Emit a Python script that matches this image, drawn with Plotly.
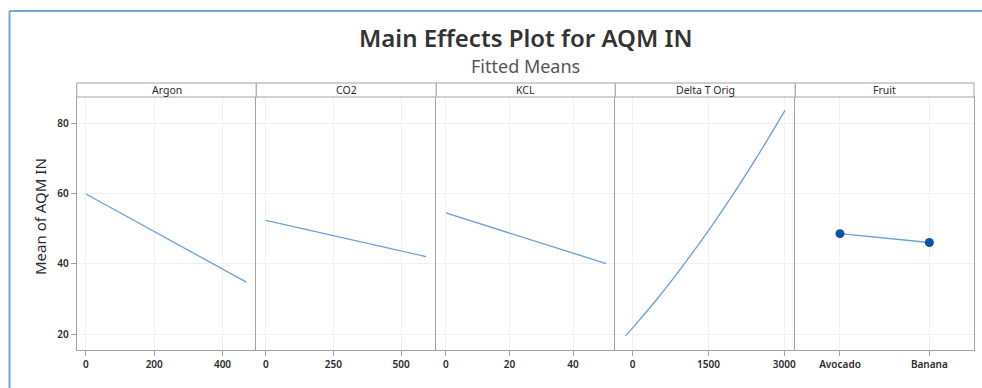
import plotly.graph_objects as go

# Factor panels and their fitted means
factors = ["Argon", "CO2", "KCL", "Delta T Orig", "Fruit"]

argon_x = [0, 470]
argon_y = [59.9, 34.8]

co2_x = [0, 592]
co2_y = [52.4, 42.1]

kcl_x = [0, 50.4]
kcl_y = [54.5, 40.1]

deltat_x = [-139, 0, 500, 1000, 1500, 2000, 2500, 3014]
deltat_y = [19.5, 21.8, 30.3, 39.6, 49.5, 60.1, 71.4, 83.7]

fruit_x = ["Avocado", "Banana"]
fruit_y = [48.6, 46.1]

x_ranges = [[-27, 499], [-35, 630], [-3, 53.3], [-343, 3218], [-0.5, 1.5]]
x_dticks = [200, 250, 20, 1500, None]
y_range = [15.5, 87.5]

W, H = 982, 388
FONT = "Noto Sans"
LINE_BLUE = "#6b9fd9"
MARKER_BLUE = "#0b53a7"
BORDER = "#a3a3a3"
GRID = "#f1f1f1"
TEXT = "#2b2b2b"

# panel edges in pixels -> paper fractions
edges_px = [76.7, 256.3, 436.3, 615.3, 795.3, 974.0]
edges = [e / W for e in edges_px]
plot_bottom = 1 - 350 / H
plot_top = 1 - 97 / H
strip_top = 1 - 83 / H

series = [
    (argon_x, argon_y),
    (co2_x, co2_y),
    (kcl_x, kcl_y),
    (deltat_x, deltat_y),
    (fruit_x, fruit_y),
]

fig = go.Figure()
layout = dict(
    width=W,
    height=H,
    margin=dict(l=0, r=0, t=0, b=0),
    paper_bgcolor="white",
    plot_bgcolor="white",
    showlegend=False,
    font=dict(family=FONT, color=TEXT),
)

shapes = []
annotations = []
tick_font = dict(family=FONT, size=10, color=TEXT, weight=600)

for i, (xs, ys) in enumerate(series):
    n = i + 1
    xa = "x" if n == 1 else f"x{n}"
    ya = "y" if n == 1 else f"y{n}"
    is_fruit = factors[i] == "Fruit"
    is_curve = factors[i] == "Delta T Orig"
    is_last = n == len(series)

    fig.add_trace(go.Scatter(
        x=xs, y=ys, xaxis=xa, yaxis=ya,
        mode="lines+markers" if is_fruit else "lines",
        line=dict(color=LINE_BLUE, width=1.3,
                  shape="spline" if is_curve else "linear"),
        marker=dict(color=MARKER_BLUE, size=9) if is_fruit else None,
        hoverinfo="skip",
    ))

    xkey = "xaxis" if n == 1 else f"xaxis{n}"
    ykey = "yaxis" if n == 1 else f"yaxis{n}"

    xaxis = dict(
        domain=[edges[i], edges[i + 1]],
        anchor=ya,
        range=x_ranges[i],
        showline=True, mirror=True, linecolor=BORDER, linewidth=1,
        showgrid=True, gridcolor=GRID, gridwidth=1,
        zeroline=False,
        ticks="outside", ticklen=5, tickcolor=BORDER,
        tickfont=tick_font,
        fixedrange=True,
    )
    if is_fruit:
        xaxis.update(type="category", categoryorder="array", categoryarray=fruit_x)
    else:
        xaxis.update(tickmode="linear", tick0=0, dtick=x_dticks[i])
    layout[xkey] = xaxis

    # only the left edge of each panel gets a line; the last panel closes the box
    yaxis = dict(
        domain=[plot_bottom, plot_top],
        anchor=xa,
        range=y_range,
        tickmode="linear", tick0=0, dtick=20,
        showline=True, mirror=is_last, linecolor=BORDER, linewidth=1,
        showgrid=True, gridcolor=GRID, gridwidth=1,
        zeroline=False,
        fixedrange=True,
    )
    if n == 1:
        yaxis.update(ticks="outside", ticklen=5, tickcolor=BORDER,
                     tickfont=tick_font)
    else:
        yaxis.update(showticklabels=False, ticks="")
    layout[ykey] = yaxis

    # factor name strip above each panel
    shapes.append(dict(
        type="rect", xref=f"{xa} domain", yref="paper",
        x0=0, x1=1, y0=plot_top, y1=strip_top,
        line=dict(color=BORDER, width=1), fillcolor="white", layer="above",
    ))
    annotations.append(dict(
        text=factors[i], xref=f"{xa} domain", yref="paper",
        x=0.5, y=(plot_top + strip_top) / 2,
        xanchor="center", yanchor="middle", showarrow=False,
        font=dict(family=FONT, size=10.5, color=TEXT),
    ))

# window frame
frame_blue = "#6fa6dc"
shapes.append(dict(type="line", xref="paper", yref="paper",
                   x0=9.5 / W, x1=9.5 / W, y0=0, y1=1 - 11 / H,
                   line=dict(color=frame_blue, width=2)))
shapes.append(dict(type="line", xref="paper", yref="paper",
                   x0=9.5 / W, x1=1, y0=1 - 11 / H, y1=1 - 11 / H,
                   line=dict(color=frame_blue, width=2)))

# titles
center_x = (edges_px[0] + edges_px[-1]) / 2 / W
annotations.append(dict(
    text="Main Effects Plot for AQM IN", xref="paper", yref="paper",
    x=center_x, y=1 - 38 / H, xanchor="center", yanchor="middle",
    showarrow=False,
    font=dict(family=FONT, size=24, color="#333333", weight=600),
))
annotations.append(dict(
    text="Fitted Means", xref="paper", yref="paper",
    x=center_x, y=1 - 66 / H, xanchor="center", yanchor="middle",
    showarrow=False, font=dict(family=FONT, size=18, color="#555555"),
))
# y-axis title
annotations.append(dict(
    text="Mean of AQM IN", xref="paper", yref="paper",
    x=40 / W, y=1 - 217 / H, xanchor="center", yanchor="middle",
    textangle=-90, showarrow=False,
    font=dict(family=FONT, size=15, color=TEXT),
))

layout["shapes"] = shapes
layout["annotations"] = annotations
fig.update_layout(**layout)

fig.write_html("out.html")
